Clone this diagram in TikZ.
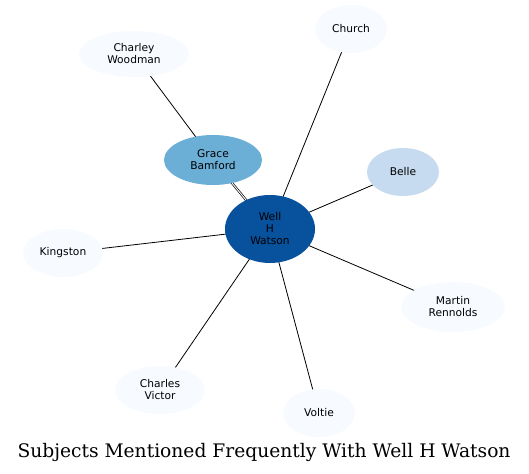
\documentclass[tikz,border=0pt]{standalone}
\usepackage{fontspec}
\setmainfont{DejaVu Serif}
\newfontfamily\nodefont{DejaVu Sans}
\usetikzlibrary{shapes.geometric}
\definecolor{blue_a}{HTML}{F7FBFF}
\definecolor{blue_b}{HTML}{C6DBEF}
\definecolor{blue_c}{HTML}{6BAED6}
\definecolor{blue_d}{HTML}{08519C}
\begin{document}
\begin{tikzpicture}[
      x=0.75pt,y=-0.75pt,
      subject_node/.style={
         ellipse,
         draw=none,
         fill=blue_a,
         inner sep=0pt,
         minimum width=72*0.75pt,
         minimum height=48*0.75pt,
         align=center,
         font=\nodefont\fontsize{8pt}{9pt}\selectfont},
      link_line/.style={
         draw=black,
         line width=0.6pt}
]
      \useasboundingbox (0,0) rectangle (529,474);

      %edges first, nodes on top
      \coordinate (c_watson) at (270,229);
      \coordinate (c_grace) at (213,160);
      \coordinate (c_charley) at (134,54);
      \coordinate (c_church) at (351,29);
      \coordinate (c_belle) at (403,172);
      \coordinate (c_kingston) at (63,253);
      \coordinate (c_martin) at (453,307);
      \coordinate (c_charles) at (160,390);
      \coordinate (c_voltie) at (319,413);

      \foreach \i/\j in {c_charley/c_grace, c_watson/c_church, c_watson/c_belle,
                         c_watson/c_kingston, c_watson/c_martin,
                         c_watson/c_charles, c_watson/c_voltie}
        \draw [link_line] (\i) -- (\j);
      \draw [link_line,double,double distance=0.7pt,line width=0.5pt] (c_grace) -- (c_watson);

      \node[subject_node,minimum width=110*0.75pt,minimum height=46*0.75pt] (charley) at (c_charley) {Charley\\Woodman};
      \node[subject_node] (church) at (c_church) {Church};
      \node[subject_node,fill=blue_c,minimum width=98*0.75pt,minimum height=50*0.75pt] (grace) at (c_grace) {Grace\\Bamford};
      \node[subject_node,fill=blue_b] (belle) at (c_belle) {Belle};
      \node[subject_node,minimum width=80*0.75pt] (kingston) at (c_kingston) {Kingston};
      \node[subject_node,minimum width=104*0.75pt,minimum height=50*0.75pt] (martin) at (c_martin) {Martin\\Rennolds};
      \node[subject_node,minimum width=90*0.75pt] (charles) at (c_charles) {Charles\\Victor};
      \node[subject_node] (voltie) at (c_voltie) {Voltie};
      \node[subject_node,fill=blue_d,minimum width=90*0.75pt,minimum height=68*0.75pt] (watson) at (c_watson) {Well\\H\\Watson};

      \node[font=\fontsize{14pt}{16pt}\selectfont] (title) at (264,452) {Subjects Mentioned Frequently With Well H Watson};
\end{tikzpicture}
\end{document}
